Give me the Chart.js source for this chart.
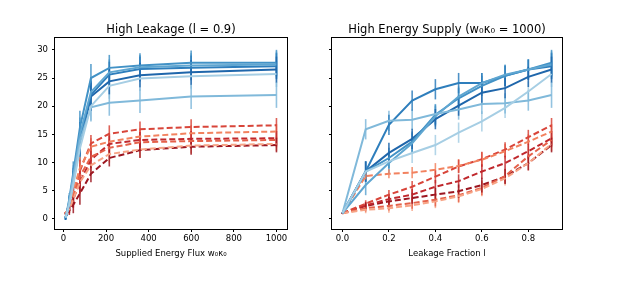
<!DOCTYPE html>
<html>
<head>
<meta charset="utf-8">
<script src="https://cdn.jsdelivr.net/npm/chart.js@4.4.1/dist/chart.umd.min.js"></script>
<style>
  body { margin: 0; background: #fff; }
  .panel { position: absolute; top: 0; width: 314px; height: 289px; }
</style>
</head>
<body>
<div class="panel" style="left:0"><canvas id="leftChart" width="314" height="289"></canvas></div>
<div class="panel" style="left:314px"><canvas id="rightChart" width="314" height="289"></canvas></div>
<script>
// x values of both panels
const fluxValues = [10, 16.7, 27.8, 46.4, 77.4, 129.2, 215.4, 359.4, 599.5, 1000];
const leakValues = [0, 0.1, 0.2, 0.3, 0.4, 0.5, 0.6, 0.7, 0.8, 0.9];

const fluxTicks = [0, 200, 400, 600, 800, 1000];
const leakTicks = [0, 0.2, 0.4, 0.6, 0.8];
const yTicks = [0, 5, 10, 15, 20, 25, 30];

// colours, light -> dark
const blueColors = ['#a6cee4', '#80b9da', '#5fa6d1', '#4292c6', '#2e7ebc', '#1f66ab'];
const redColors = ['#f7a486', '#f2825f', '#e5614a', '#d8453a', '#c0282d', '#9c1620'];

// High leakage panel (solid blue)
const leftBlue = [
  [0.2, 1.0, 2.6, 6.0, 12.5, 20.0, 23.6, 24.9, 25.3, 25.7],
  [0.3, 1.2, 3.2, 7.2, 13.8, 19.8, 20.6, 21.0, 21.7, 22.0],
  [0.2, 1.1, 3.2, 7.5, 15.0, 22.5, 26.0, 26.9, 27.2, 27.4],
  [0.2, 1.3, 3.6, 8.2, 16.2, 25.0, 26.8, 27.2, 27.7, 27.7],
  [0.1, 1.1, 3.0, 7.0, 14.2, 22.0, 25.6, 26.6, 26.8, 27.1],
  [0.1, 1.0, 2.8, 6.5, 13.2, 21.7, 24.4, 25.5, 26.0, 26.5],
];
// High leakage panel (dashed red)
const leftRed = [
  [1.0, 1.2, 1.8, 3.5, 6.5, 9.5, 11.5, 12.3, 13.0, 13.3],
  [1.0, 1.4, 2.5, 5.0, 9.0, 12.8, 13.7, 14.6, 15.2, 15.5],
  [1.0, 1.3, 2.0, 4.0, 7.5, 11.0, 12.6, 13.6, 13.8, 14.0],
  [1.0, 1.3, 2.2, 4.5, 8.5, 13.4, 15.1, 15.9, 16.3, 16.6],
  [1.0, 1.2, 1.8, 3.5, 6.5, 10.5, 13.3, 14.0, 14.2, 14.3],
  [1.0, 1.1, 1.5, 2.5, 4.5, 8.0, 10.8, 12.2, 12.8, 13.1],
];
const leftBlueErr = [0.3, 0.5, 1.0, 2.0, 3.0, 2.5, 2.3, 2.2, 2.2, 2.3];
const leftRedErr = [0.2, 0.4, 0.8, 1.5, 2.0, 1.5, 1.5, 1.4, 1.4, 1.3];

// High energy supply panel (solid blue)
const rightBlue = [
  [1.0, 8.4, 10.2, 11.7, 13.1, 15.3, 17.3, 19.7, 22.6, 25.7],
  [1.0, 15.9, 17.4, 17.6, 18.6, 19.4, 20.4, 20.5, 21.0, 22.0],
  [1.0, 6.0, 9.9, 13.4, 18.2, 21.7, 24.1, 25.6, 26.5, 27.4],
  [1.0, 8.4, 10.8, 13.7, 18.5, 21.4, 23.6, 25.4, 26.5, 27.7],
  [1.0, 8.4, 16.7, 21.0, 23.0, 24.1, 24.1, 25.4, 26.5, 27.1],
  [1.0, 8.4, 11.7, 14.2, 17.7, 20.1, 22.4, 23.2, 25.2, 26.5],
];
// High energy supply panel (dashed red)
const rightRed = [
  [1.0, 1.6, 1.9, 2.4, 3.1, 4.0, 5.3, 7.2, 9.9, 13.3],
  [1.0, 7.6, 8.0, 8.2, 8.7, 9.4, 10.5, 12.0, 13.7, 15.5],
  [1.0, 1.9, 2.3, 2.8, 3.4, 4.2, 5.5, 7.6, 11.1, 14.0],
  [1.0, 2.7, 4.3, 5.7, 7.5, 9.3, 10.6, 12.3, 14.5, 16.6],
  [1.0, 2.4, 3.5, 4.3, 5.7, 6.7, 8.4, 9.9, 12.0, 14.3],
  [1.0, 2.3, 3.1, 3.7, 4.3, 4.9, 6.0, 7.5, 9.9, 13.1],
];
const rightBlueErr = [0.1, 1.8, 1.8, 1.8, 1.8, 1.8, 1.8, 1.8, 1.8, 2.3];
const rightRedErr = [0.1, 0.6, 0.8, 1.0, 1.2, 1.2, 1.3, 1.3, 1.3, 1.3];

const FONT = 'DejaVu Sans';

// vertical error bars drawn through the chart scales
const errorBars = {
  id: 'errorBars',
  beforeDatasetsDraw(chart) {
    const { ctx, chartArea, scales } = chart;
    ctx.save();
    ctx.beginPath();
    ctx.rect(chartArea.left, chartArea.top, chartArea.width, chartArea.height);
    ctx.clip();
    ctx.globalAlpha = 0.85;
    chart.data.datasets.forEach((ds) => {
      ctx.strokeStyle = ds.borderColor;
      ctx.lineWidth = 1.6;
      ds.data.forEach((p, i) => {
        const e = ds.errors[i];
        const px = scales.x.getPixelForValue(p.x);
        ctx.beginPath();
        ctx.moveTo(px, scales.y.getPixelForValue(p.y - e));
        ctx.lineTo(px, scales.y.getPixelForValue(p.y + e));
        ctx.stroke();
      });
    });
    ctx.restore();
  },
};

// full box around the axes
const frame = {
  id: 'frame',
  afterDraw(chart) {
    const { ctx, chartArea: a } = chart;
    ctx.save();
    ctx.strokeStyle = '#000';
    ctx.lineWidth = 1;
    ctx.strokeRect(Math.round(a.left) - 0.5, Math.round(a.top) - 0.5,
      Math.round(a.width) + 1, Math.round(a.height) + 1);
    ctx.restore();
  },
};

function makeSets(xs, series, errs, colors, dashed) {
  return series.map((ys, k) => ({
    data: xs.map((x, i) => ({ x: x, y: ys[i] })),
    errors: errs,
    borderColor: colors[k],
    borderWidth: 2,
    borderDash: dashed ? [6, 3] : [],
    pointRadius: 0,
    fill: false,
    tension: 0,
  }));
}

function makeChart(id, opts) {
  const ctx = document.getElementById(id).getContext('2d');
  return new Chart(ctx, {
    type: 'line',
    data: {
      datasets: opts.datasets,
    },
    plugins: [errorBars, frame],
    options: {
      responsive: false,
      animation: false,
      devicePixelRatio: 1,
      layout: { padding: { left: 0, right: opts.padRight, top: 0, bottom: 0 } },
      plugins: {
        legend: { display: false },
        tooltip: { enabled: false },
        title: {
          display: true,
          fullSize: false,
          text: opts.title,
          color: '#000',
          font: { family: FONT, size: 11.5, weight: 'normal' },
          padding: { top: 23, bottom: 1.2 },
        },
      },
      scales: {
        x: {
          type: 'linear',
          min: opts.xMin,
          max: opts.xMax,
          afterBuildTicks: (scale) => {
            scale.ticks = opts.xTicks.map((v) => ({ value: v }));
          },
          afterFit: (scale) => {
            scale.height = 60;
          },
          border: { display: false },
          grid: { drawOnChartArea: false, tickLength: 3, color: '#000' },
          ticks: {
            color: '#000',
            padding: 2,
            maxRotation: 0,
            font: { family: FONT, size: 8.5 },
            callback: opts.xFormat,
          },
          title: {
            display: true,
            text: opts.xLabel,
            color: '#000',
            font: { family: FONT, size: 8.5 },
            padding: { top: 5, bottom: 30 },
          },
        },
        y: {
          min: -1.8,
          max: 32.1,
          afterBuildTicks: (scale) => {
            scale.ticks = yTicks.map((v) => ({ value: v }));
          },
          afterFit: (scale) => {
            scale.width = opts.yWidth;
          },
          border: { display: false },
          grid: { drawOnChartArea: false, tickLength: 3, color: '#000' },
          ticks: {
            display: opts.yLabels,
            color: '#000',
            padding: 4,
            font: { family: FONT, size: 8.5 },
          },
        },
      },
    },
  });
}

makeChart('leftChart', {
  title: 'High Leakage (l = 0.9)',
  xLabel: 'Supplied Energy Flux w\u2080\u03ba\u2080',
  xMin: -39.5,
  xMax: 1049.5,
  xTicks: fluxTicks,
  xFormat: (v) => String(v),
  yWidth: 55,
  yLabels: true,
  padRight: 27,
  datasets: makeSets(fluxValues, leftBlue, leftBlueErr, blueColors, false)
    .concat(makeSets(fluxValues, leftRed, leftRedErr, redColors, true)),
});

makeChart('rightChart', {
  title: 'High Energy Supply (w\u2080\u03ba\u2080 = 1000)',
  xLabel: 'Leakage Fraction l',
  xMin: -0.045,
  xMax: 0.945,
  xTicks: leakTicks,
  xFormat: (v) => Number(v).toFixed(1),
  yWidth: 18,
  yLabels: false,
  padRight: 66,
  datasets: makeSets(leakValues, rightBlue, rightBlueErr, blueColors, false)
    .concat(makeSets(leakValues, rightRed, rightRedErr, redColors, true)),
});
</script>
</body>
</html>
